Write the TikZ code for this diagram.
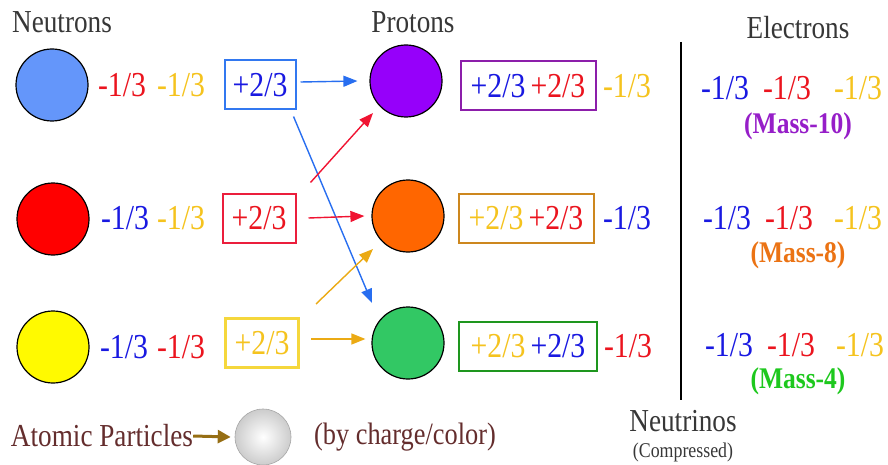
\documentclass[tikz,border=0pt]{standalone}
\usepackage{fontspec}
\setmainfont{Liberation Serif}[FakeStretch=0.85]
\usetikzlibrary{arrows.meta,calc,shapes.geometric}
\definecolor{tblue}{RGB}{25,25,225}
\definecolor{tred}{RGB}{235,20,30}
\definecolor{tyellow}{RGB}{245,195,30}
\definecolor{tgray}{RGB}{55,55,55}
\definecolor{tbrown}{RGB}{100,45,45}
\definecolor{tpurple}{RGB}{150,30,200}
\definecolor{torange}{RGB}{235,115,20}
\definecolor{tgreen}{RGB}{30,200,30}
\definecolor{cblue}{RGB}{100,150,250}
\definecolor{cred}{RGB}{255,0,0}
\definecolor{cyellow}{RGB}{255,250,0}
\definecolor{cpurple}{RGB}{150,0,250}
\definecolor{corange}{RGB}{255,102,0}
\definecolor{cgreen}{RGB}{50,200,100}
\definecolor{bblue}{RGB}{50,120,240}
\definecolor{bred}{RGB}{235,30,60}
\definecolor{byellow}{RGB}{245,215,60}
\definecolor{bpurple}{RGB}{140,30,170}
\definecolor{borange}{RGB}{205,135,30}
\definecolor{bgreen}{RGB}{30,150,30}
\definecolor{ablue}{RGB}{40,110,240}
\definecolor{ared}{RGB}{240,20,50}
\definecolor{ayellow}{RGB}{235,170,20}
\definecolor{abrown}{RGB}{150,110,20}
\begin{document}
\begin{tikzpicture}[x=1pt,y=-1pt,
  particle/.style={circle,draw=black,line width=1.2pt,minimum size=72pt,inner sep=0pt},
  frac/.style={inner sep=0pt,font=\fontsize{35}{35}\selectfont},
  title/.style={inner sep=0pt,text=tgray,font=\fontsize{32}{32}\selectfont},
  mass/.style={inner sep=0pt,font=\fontsize{30}{30}\selectfont\bfseries},
  qbox/.style={draw,line width=2pt,fill=white,minimum height=49pt,inner sep=0pt,font=\fontsize{35}{35}\selectfont},
  conn/.style={line width=1.4pt,-{Triangle[length=14pt,width=11pt]}}]
\useasboundingbox (0,0) rectangle (888,465);
% titles
\node[title] (tN) at (62,22) {Neutrons};
\node[title] (tP) at (413,22) {Protons};
\node[title] (tE) at (798,28) {Electrons};
% neutrons
\node[particle,fill=cblue] (N1) at (52,85) {};
\node[particle,fill=cred] (N2) at (53,219) {};
\node[particle,fill=cyellow] (N3) at (53,347) {};
\node[frac,text=tred] (n1a) at (122,85) {-1/3};
\node[frac,text=tyellow] (n1b) at (181,85) {-1/3};
\node[frac,text=tblue] (n2a) at (125,218) {-1/3};
\node[frac,text=tyellow] (n2b) at (181,218) {-1/3};
\node[frac,text=tblue] (n3a) at (124,347) {-1/3};
\node[frac,text=tred] (n3b) at (181,347) {-1/3};
% up quark boxes
\node[qbox,draw=bblue,minimum width=71pt,text=tblue] (bB) at (260,85) {+2/3};
\node[qbox,draw=bred,minimum width=73pt,text=tred] (rB) at (259,218) {+2/3};
\node[qbox,draw=byellow,line width=3pt,minimum width=73pt,text=tyellow] (yB) at (262,343) {+2/3};
% protons
\node[particle,fill=cpurple] (P) at (406,81) {};
\node[particle,fill=corange] (O) at (408,216) {};
\node[particle,fill=cgreen] (G) at (408,343) {};
\node[qbox,draw=bpurple,minimum width=135pt] (pB) at (528,86) {{\color{tblue}+2/3}\hspace{5pt}{\color{tred}+2/3}};
\node[qbox,draw=borange,minimum width=135pt] (oB) at (526,218) {{\color{tyellow}+2/3}\hspace{5pt}{\color{tred}+2/3}};
\node[qbox,draw=bgreen,minimum width=138pt] (gB) at (528,346) {{\color{tyellow}+2/3}\hspace{5pt}{\color{tblue}+2/3}};
\node[frac,text=tyellow] (p1) at (627,86) {-1/3};
\node[frac,text=tblue] (p2) at (627,218) {-1/3};
\node[frac,text=tred] (p3) at (628,346) {-1/3};
% connectors
\draw[conn,ablue] ([xshift=4pt,yshift=3pt]bB.east) -- ([xshift=-12pt]P.west);
\draw[conn,ablue] ($(bB.south east)+(-3,6)$) -- ($(G.center)+(-36,-40)$);
\draw[conn,ared] ([xshift=12pt]rB.east) -- ([xshift=-7pt]O.west);
\draw[conn,ared] ($(rB.north east)+(14,-10)$) -- ($(P.center)+(-33,32)$);
\draw[conn,ayellow] ([xshift=11pt,yshift=4pt]yB.east) -- ([xshift=-6pt,yshift=4pt]G.west);
\draw[conn,ayellow] ($(yB.north east)+(16,-13)$) -- ($(O.center)+(-35,33)$);
% divider
\coordinate (vt) at (681,42);
\coordinate (vb) at (681,400);
\draw[line width=2.5pt] (vt) -- (vb);
% electrons
\node[frac,text=tblue] (e1a) at (725,88) {-1/3};
\node[frac,text=tred] (e1b) at (787,88) {-1/3};
\node[frac,text=tyellow] (e1c) at (858,88) {-1/3};
\node[mass,text=tpurple] (m1) at (798,126) {(Mass-10)};
\node[frac,text=tblue] (e2a) at (727,218) {-1/3};
\node[frac,text=tred] (e2b) at (789,218) {-1/3};
\node[frac,text=tyellow] (e2c) at (858,218) {-1/3};
\node[mass,text=torange] (m2) at (798,255) {(Mass-8)};
\node[frac,text=tblue] (e3a) at (729,345) {-1/3};
\node[frac,text=tred] (e3b) at (791,345) {-1/3};
\node[frac,text=tyellow] (e3c) at (860,345) {-1/3};
\node[mass,text=tgreen] (m3) at (798,381) {(Mass-4)};
% neutrinos
\node[title] (tNu) at (683,421) {Neutrinos};
\node[inner sep=0pt,text=tgray,font=\fontsize{21}{21}\selectfont] (tC) at (683,452) {(Compressed)};
% legend
\node[inner sep=0pt,text=tbrown,font=\fontsize{32}{32}\selectfont] (AP) at (102,436) {Atomic Particles};
\node[circle,minimum size=56pt,inner sep=0pt,draw=gray!70,line width=0.6pt,inner color=white,outer color=gray!40] (ball) at (263,437) {};
\node[inner sep=0pt,text=tbrown,font=\fontsize{31}{31}\selectfont] (BC) at (405,437) {(by charge/color)};
\draw[abrown,line width=3pt,-{Triangle[length=13pt,width=13pt]}] (AP.east) -- ([xshift=-4pt]ball.west);
\end{tikzpicture}
\end{document}
